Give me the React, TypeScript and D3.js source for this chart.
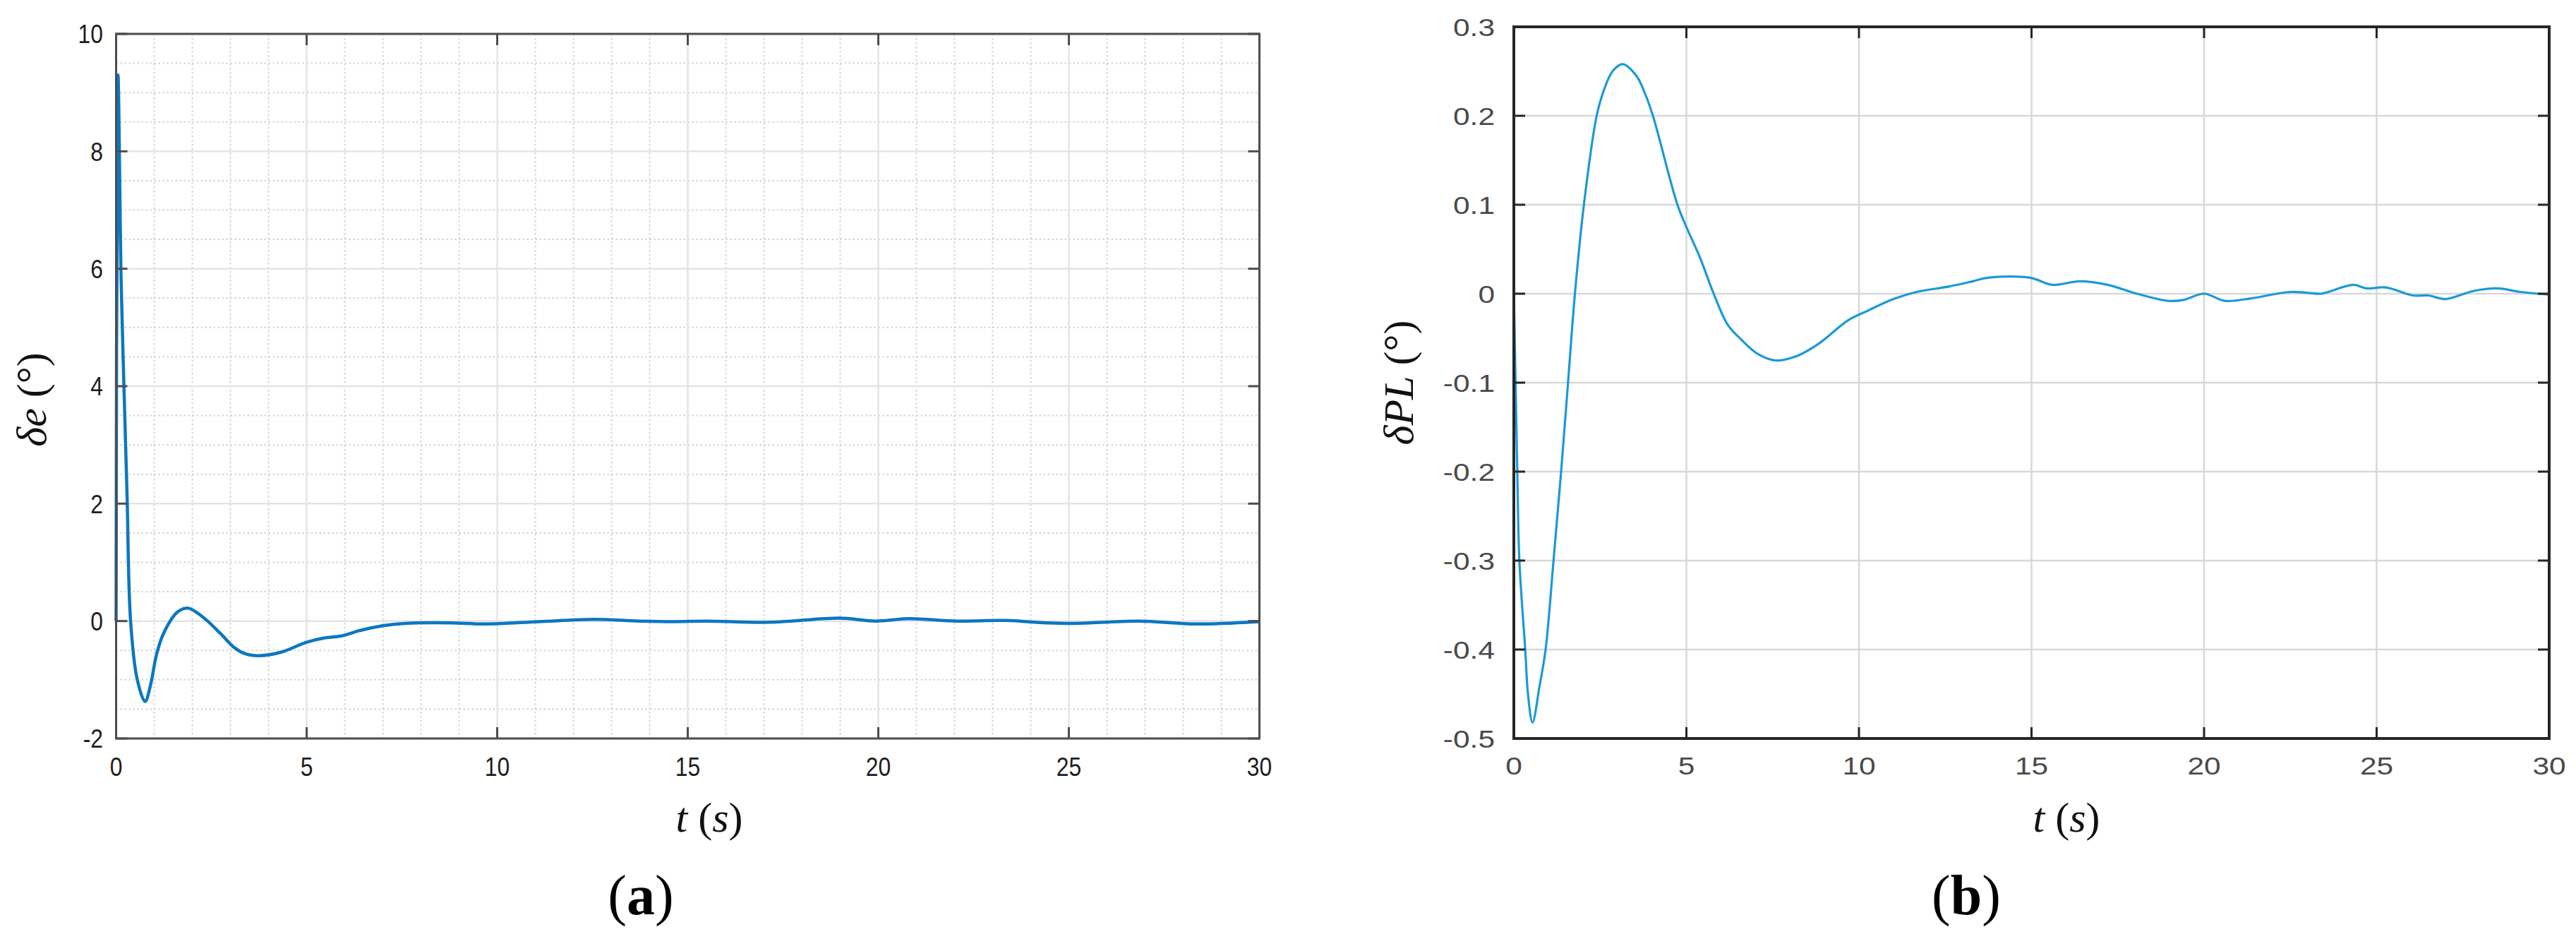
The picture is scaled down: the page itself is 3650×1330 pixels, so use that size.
import React, { useEffect, useRef } from "react";
import * as d3 from "d3";

// (a) elevator deflection δe (deg) vs time (s)
const deTime = [0, 0.05, 0.133, 0.207, 0.287, 0.38, 0.556, 0.76, 0.9, 1.05, 1.2, 1.42, 1.62, 1.89, 2.15, 2.4, 2.75, 3.1, 3.4, 3.74, 4.33, 5.0, 5.45, 5.93, 6.4, 7.0, 7.59, 8.76, 9.7, 11.1, 12.54, 13.72, 14.67, 15.47, 17.17, 18.98, 19.93, 20.79, 22.07, 23.34, 24.4, 25.14, 26.84, 28.33, 30];
const deValue = [0, 9.3, 5.77, 3.97, 2.16, 0, -1.0, -1.37, -1.1, -0.6, -0.28, 0.0, 0.16, 0.22, 0.13, 0, -0.22, -0.45, -0.56, -0.59, -0.53, -0.36, -0.29, -0.25, -0.16, -0.08, -0.04, -0.03, -0.05, -0.01, 0.03, 0, -0.01, 0.0, -0.02, 0.05, 0.0, 0.04, 0.0, 0.01, -0.03, -0.04, 0.0, -0.05, -0.01];

// (b) δPL (deg) vs time (s)
const plTime = [0, 0.05, 0.1, 0.16, 0.33, 0.41, 0.54, 0.75, 0.92, 1.15, 1.37, 1.57, 1.77, 2.03, 2.4, 2.62, 2.86, 3.15, 3.55, 3.8, 4.03, 4.74, 5.0, 5.4, 5.79, 6.2, 6.6, 7.08, 7.58, 8.2, 8.84, 9.68, 10.26, 11.0, 11.67, 12.6, 13.3, 13.74, 14.96, 15.6, 16.4, 17.2, 18.05, 18.95, 19.4, 20.0, 20.6, 21.4, 22.5, 23.4, 23.6, 24.33, 24.7, 25.27, 26.05, 26.5, 27.0, 27.8, 28.5, 29.16, 30];
const plValue = [0, -0.1, -0.2, -0.3, -0.4, -0.45, -0.482, -0.44, -0.4, -0.3, -0.2, -0.1, 0, 0.1, 0.2, 0.23, 0.25, 0.258, 0.245, 0.225, 0.2, 0.1, 0.075, 0.04, 0, -0.035, -0.052, -0.068, -0.075, -0.07, -0.056, -0.03, -0.019, -0.006, 0.002, 0.008, 0.014, 0.018, 0.018, 0.010, 0.014, 0.010, 0.0, -0.008, -0.007, 0, -0.008, -0.005, 0.002, 0, 0.002, 0.010, 0.006, 0.007, -0.002, -0.002, -0.006, 0.003, 0.006, 0.002, -0.001];

const timeTicks = [0, 5, 10, 15, 20, 25, 30];
const deTicks = [-2, 0, 2, 4, 6, 8, 10];
const plTicks = [-0.5, -0.4, -0.3, -0.2, -0.1, 0, 0.1, 0.2, 0.3];
const deMinorX = d3.range(0, 31, 1).filter(v => v % 5 !== 0);
const deMinorY = d3.range(-2, 10.01, 0.5).filter(v => Math.abs(v % 2) > 0.01);

const W = 3650, H = 1330;
const SANS = "'Liberation Sans', Arial, Helvetica, sans-serif";
const SERIF = "'Liberation Serif', 'Times New Roman', Times, serif";

function drawPanel(svg, p) {
	const x = d3.scaleLinear().domain([0, 30]).range([p.left, p.right]);
	const y = d3.scaleLinear().domain(p.yDomain).range([p.bottom, p.top]);
	const g = svg.append("g");

	// minor dotted grid
	if (p.minorX) {
		g.selectAll(".mgx").data(p.minorX).enter().append("line")
			.attr("x1", d => x(d)).attr("x2", d => x(d))
			.attr("y1", p.top).attr("y2", p.bottom)
			.attr("stroke", "#d4d4d4").attr("stroke-width", 2).attr("stroke-dasharray", "2.5,3.5");
		g.selectAll(".mgy").data(p.minorY).enter().append("line")
			.attr("x1", p.left).attr("x2", p.right)
			.attr("y1", d => y(d)).attr("y2", d => y(d))
			.attr("stroke", "#d4d4d4").attr("stroke-width", 2).attr("stroke-dasharray", "2.5,3.5");
	}
	// major grid
	g.selectAll(".gx").data(timeTicks).enter().append("line")
		.attr("x1", d => x(d)).attr("x2", d => x(d))
		.attr("y1", p.top).attr("y2", p.bottom)
		.attr("stroke", p.gridColor).attr("stroke-width", 2.5);
	g.selectAll(".gy").data(p.yTicks).enter().append("line")
		.attr("x1", p.left).attr("x2", p.right)
		.attr("y1", d => y(d)).attr("y2", d => y(d))
		.attr("stroke", p.gridColor).attr("stroke-width", 2.5);

	// curve
	const line = d3.line().x(d => x(d[0])).y(d => y(d[1])).curve(d3.curveCatmullRom.alpha(0.5));
	g.append("path")
		.datum(p.time.map((t, i) => [t, p.value[i]]))
		.attr("d", line)
		.attr("fill", "none")
		.attr("stroke", p.lineColor)
		.attr("stroke-width", p.lineWidth)
		.attr("stroke-linejoin", "round");

	// ticks on all four sides
	const tl = 16;
	const ticks = g.append("g").attr("stroke", p.axisColor).attr("stroke-width", 3);
	timeTicks.forEach(t => {
		ticks.append("line").attr("x1", x(t)).attr("x2", x(t)).attr("y1", p.bottom).attr("y2", p.bottom - tl);
		ticks.append("line").attr("x1", x(t)).attr("x2", x(t)).attr("y1", p.top).attr("y2", p.top + tl);
	});
	p.yTicks.forEach(v => {
		ticks.append("line").attr("x1", p.left).attr("x2", p.left + tl).attr("y1", y(v)).attr("y2", y(v));
		ticks.append("line").attr("x1", p.right).attr("x2", p.right - tl).attr("y1", y(v)).attr("y2", y(v));
	});

	// box
	g.append("rect")
		.attr("x", p.left).attr("y", p.top)
		.attr("width", p.right - p.left).attr("height", p.bottom - p.top)
		.attr("fill", "none").attr("stroke", p.axisColor).attr("stroke-width", p.boxWidth);

	// tick labels
	timeTicks.forEach(t => {
		g.append("g").attr("transform", `translate(${x(t)},${p.xLabelY}) scale(${p.textScale},1)`)
			.append("text").attr("text-anchor", "middle")
			.attr("font-family", SANS).attr("font-size", p.tickSize).attr("fill", p.tickColor)
			.text(t);
	});
	p.yTicks.forEach(v => {
		g.append("g").attr("transform", `translate(${p.yLabelX},${y(v) + p.tickSize * 0.36}) scale(${p.textScale},1)`)
			.append("text").attr("text-anchor", "end")
			.attr("font-family", SANS).attr("font-size", p.tickSize).attr("fill", p.tickColor)
			.text(String(v));
	});

	// axis titles
	const xt = g.append("text").attr("x", p.xTitleX).attr("y", p.xTitleY)
		.attr("text-anchor", "middle").attr("font-family", SERIF).attr("font-size", 60).attr("fill", "#111");
	xt.append("tspan").attr("font-style", "italic").text("t");
	xt.append("tspan").text(" (");
	xt.append("tspan").attr("font-style", "italic").text("s");
	xt.append("tspan").text(")");

	const yt = g.append("text")
		.attr("transform", `translate(${p.yTitleX},${p.yTitleY}) rotate(-90)`)
		.attr("text-anchor", "middle").attr("font-family", SERIF).attr("font-size", 60).attr("fill", "#111");
	yt.append("tspan").attr("font-style", "italic").text(p.yTitle);
	yt.append("tspan").text(" (°)");

	// panel tag
	const tag = g.append("text").attr("x", p.tagX).attr("y", 1295)
		.attr("text-anchor", "middle").attr("font-family", SERIF).attr("font-size", 80).attr("fill", "#000");
	tag.append("tspan").text("(");
	tag.append("tspan").attr("font-weight", "bold").text(p.tag);
	tag.append("tspan").text(")");
}

export default function App() {
	const ref = useRef(null);

	useEffect(() => {
		const svg = d3.select(ref.current);
		svg.selectAll("*").remove();
		svg.append("rect").attr("width", W).attr("height", H).attr("fill", "#fff");

		drawPanel(svg, {
			left: 164.5, right: 1784.5, top: 48, bottom: 1046,
			yDomain: [-2, 10], yTicks: deTicks, minorX: deMinorX, minorY: deMinorY,
			time: deTime, value: deValue,
			gridColor: "#e4e4e4", axisColor: "#4d4d4d", boxWidth: 3,
			lineColor: "#0b77c0", lineWidth: 4.5,
			tickSize: 37, tickColor: "#1e1e1e", textScale: 0.86,
			xLabelY: 1099, yLabelX: 146,
			xTitleX: 1005, xTitleY: 1178, yTitleX: 65, yTitleY: 566, yTitle: "δe",
			tag: "a", tagX: 908
		});

		drawPanel(svg, {
			left: 2145, right: 3612, top: 38, bottom: 1046,
			yDomain: [-0.5, 0.3], yTicks: plTicks,
			time: plTime, value: plValue,
			gridColor: "#d8d8d8", axisColor: "#262626", boxWidth: 4,
			lineColor: "#1b9ad6", lineWidth: 3.2,
			tickSize: 36, tickColor: "#4a4a4a", textScale: 1.18,
			xLabelY: 1097, yLabelX: 2118,
			xTitleX: 2928, xTitleY: 1178, yTitleX: 2002, yTitleY: 542, yTitle: "δPL",
			tag: "b", tagX: 2786
		});
	}, []);

	return (
		<svg ref={ref} width={W} height={H}
			style={{ position: "absolute", left: 0, top: 0, display: "block" }} />
	);
}
